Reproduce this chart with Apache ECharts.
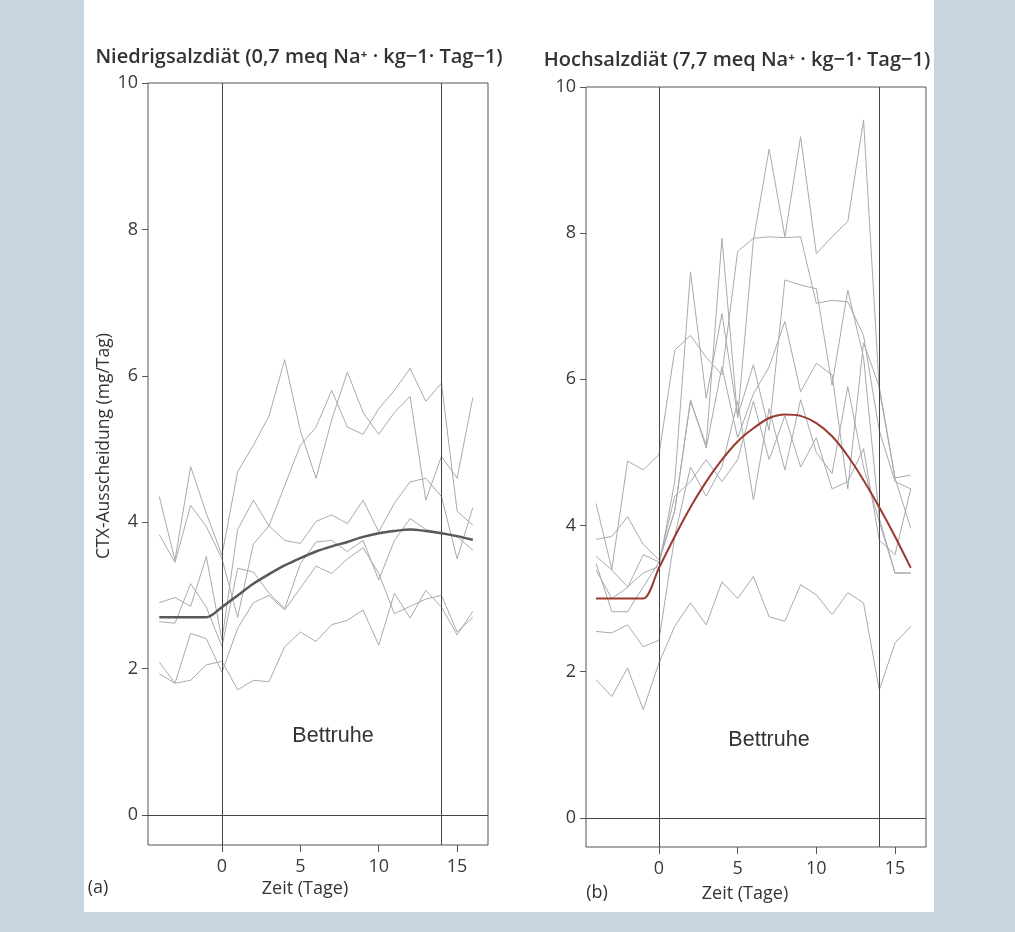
<!DOCTYPE html>
<html>
<head>
<meta charset="utf-8">
<script src="https://cdn.jsdelivr.net/npm/echarts@6/dist/echarts.min.js"></script>
<style>
  html, body { margin: 0; padding: 0; background: #c6d5df; }
  #chart { width: 1015px; height: 932px; }
</style>
</head>
<body>
<div id="chart"></div>
<script>
// days of the study, bed rest from day 0 to day 14
const days = [-4, -3, -2, -1, 0, 1, 2, 3, 4, 5, 6, 7, 8, 9, 10, 11, 12, 13, 14, 15, 16];
const yTicks = [0, 2, 4, 6, 8, 10];
const xTicks = [0, 5, 10, 15];

// (a) low-salt diet, single subjects
const lowSalt1 = [4.35, 3.48, 4.76, 4.12, 3.55, 4.69, 5.05, 5.45, 6.22, 5.25, 4.6, 5.4, 6.05, 5.5, 5.2, 5.5, 5.72, 4.3, 4.9, 4.6, 5.7];
const lowSalt2 = [3.83, 3.45, 4.23, 3.94, 3.5, 2.7, 3.7, 3.95, 4.5, 5.05, 5.3, 5.8, 5.3, 5.2, 5.55, 5.8, 6.1, 5.65, 5.9, 4.15, 3.96];
const lowSalt3 = [2.9, 2.97, 2.85, 3.53, 2.39, 3.9, 4.3, 3.95, 3.75, 3.71, 4.01, 4.1, 3.98, 4.3, 3.87, 4.26, 4.55, 4.6, 4.35, 3.5, 4.2];
const lowSalt4 = [2.64, 2.62, 3.16, 2.84, 2.3, 3.37, 3.32, 3.03, 2.82, 3.43, 3.73, 3.75, 3.6, 3.75, 3.21, 3.75, 4.05, 3.9, 3.85, 3.8, 3.62];
const lowSalt5 = [2.09, 1.8, 2.48, 2.41, 1.95, 2.55, 2.9, 3.0, 2.8, 3.1, 3.4, 3.3, 3.5, 3.65, 3.3, 2.75, 2.85, 2.95, 3.0, 2.5, 2.7];
const lowSalt6 = [1.93, 1.8, 1.84, 2.05, 2.1, 1.71, 1.84, 1.82, 2.3, 2.5, 2.37, 2.6, 2.66, 2.8, 2.32, 3.03, 2.69, 3.07, 2.84, 2.46, 2.78];
const lowSaltMean = [2.7, 2.7, 2.7, 2.7, 2.84, 3.0, 3.16, 3.29, 3.41, 3.51, 3.6, 3.67, 3.73, 3.8, 3.85, 3.88, 3.9, 3.88, 3.85, 3.81, 3.76];

// (b) high-salt diet, single subjects
const highSalt1 = [3.81, 3.85, 4.12, 3.74, 3.53, 4.2, 5.7, 5.1, 7.93, 5.47, 7.9, 9.15, 7.95, 9.32, 7.72, 7.95, 8.16, 9.55, 5.86, 4.65, 4.69];
const highSalt2 = [4.3, 3.4, 4.88, 4.76, 4.97, 6.4, 6.6, 6.3, 6.06, 7.75, 7.93, 7.95, 7.94, 7.95, 7.04, 7.08, 7.06, 6.6, 5.3, 4.6, 4.5];
const highSalt3 = [3.58, 3.39, 3.16, 3.35, 3.44, 4.6, 7.47, 5.74, 6.9, 5.5, 6.2, 5.3, 7.36, 7.29, 7.24, 5.92, 7.22, 6.3, 4.1, 3.35, 3.35];
const highSalt4 = [3.48, 2.82, 2.82, 3.16, 3.5, 4.2, 5.72, 5.06, 6.17, 5.2, 5.8, 6.17, 6.79, 5.83, 6.22, 6.06, 4.5, 6.5, 5.9, 4.65, 3.96];
const highSalt5 = [2.55, 2.53, 2.64, 2.34, 2.43, 3.85, 4.8, 4.4, 4.8, 5.7, 4.35, 5.6, 4.76, 5.72, 5.0, 4.71, 5.9, 4.8, 4.05, 3.35, 3.35];
const highSalt6 = [3.39, 3.0, 3.15, 3.6, 3.5, 4.4, 4.6, 4.9, 4.6, 4.9, 5.7, 4.9, 5.5, 4.8, 5.2, 4.5, 4.6, 5.05, 3.8, 3.6, 4.5];
const highSalt7 = [1.89, 1.66, 2.05, 1.48, 2.12, 2.62, 2.94, 2.64, 3.23, 3.0, 3.3, 2.75, 2.69, 3.19, 3.05, 2.78, 3.08, 2.94, 1.75, 2.39, 2.62];
const highSaltMean = [3.0, 3.0, 3.0, 3.0, 3.42, 3.85, 4.25, 4.6, 4.9, 5.15, 5.33, 5.47, 5.52, 5.5, 5.4, 5.22, 4.95, 4.62, 4.25, 3.85, 3.42];

const lowSalt = [lowSalt1, lowSalt2, lowSalt3, lowSalt4, lowSalt5, lowSalt6];
const highSalt = [highSalt1, highSalt2, highSalt3, highSalt4, highSalt5, highSalt6, highSalt7];

const pairs = vals => days.map((d, i) => [d, vals[i]]);
const font = "'Open Sans', 'Noto Sans', sans-serif";

function grayLine(vals, idx) {
  return {
    type: 'line', xAxisIndex: idx, yAxisIndex: idx, data: pairs(vals),
    showSymbol: false, silent: true,
    lineStyle: { color: '#a6abaf', width: 1 }
  };
}

function frameLines(idx) {
  // bed rest borders and zero line
  return {
    type: 'line', xAxisIndex: idx, yAxisIndex: idx, data: [], silent: true,
    markLine: {
      symbol: ['none', 'none'], silent: true, label: { show: false },
      lineStyle: { color: '#444', type: 'solid', width: 1 },
      data: [{ xAxis: 0 }, { xAxis: 14 }, { yAxis: 0 }]
    }
  };
}

function xAxisCfg(idx, min) {
  return {
    type: 'value', gridIndex: idx, min: min, max: 16.97,
    splitLine: { show: false }, axisLine: { show: false, onZero: false },
    axisTick: { show: true, length: 7, customValues: xTicks, lineStyle: { color: '#555' } },
    axisLabel: { customValues: xTicks, color: '#3a3a3a', fontSize: 18, fontFamily: font, margin: 13 }
  };
}

function yAxisCfg(idx, min) {
  return {
    type: 'value', gridIndex: idx, min: min, max: 10,
    splitLine: { show: false }, axisLine: { show: false, onZero: false },
    axisTick: { show: true, length: 6, customValues: yTicks, lineStyle: { color: '#555' } },
    axisLabel: { customValues: yTicks, color: '#3a3a3a', fontSize: 18, fontFamily: font, margin: 10 }
  };
}

const chart = echarts.init(document.getElementById('chart'));

const series = [frameLines(0), frameLines(1)];
lowSalt.forEach(v => series.push(grayLine(v, 0)));
highSalt.forEach(v => series.push(grayLine(v, 1)));
series.push({
  type: 'line', xAxisIndex: 0, yAxisIndex: 0, data: pairs(lowSaltMean),
  showSymbol: false, smooth: 0.3, silent: true, z: 5,
  lineStyle: { color: '#585858', width: 2.5 }
});
series.push({
  type: 'line', xAxisIndex: 1, yAxisIndex: 1, data: pairs(highSaltMean),
  showSymbol: false, smooth: 0.3, silent: true, z: 5,
  lineStyle: { color: '#9a3a2e', width: 2 }
});

const txt = (x, y, text, css, opts) => Object.assign({
  type: 'text', x: x, y: y,
  style: { text: text, fill: '#333', font: css, textAlign: 'center', textVerticalAlign: 'middle' }
}, opts || {});

chart.setOption({
  backgroundColor: 'transparent',
  animation: false,
  grid: [
    { left: 148, top: 83, width: 340, height: 762, show: true, borderColor: '#555', borderWidth: 1, backgroundColor: 'transparent' },
    { left: 586, top: 87, width: 340, height: 760, show: true, borderColor: '#555', borderWidth: 1, backgroundColor: 'transparent' }
  ],
  xAxis: [xAxisCfg(0, -4.72), xAxisCfg(1, -4.64)],
  yAxis: [yAxisCfg(0, -0.41), yAxisCfg(1, -0.4)],
  graphic: [
    { type: 'rect', z: -10, shape: { x: 84, y: 0, width: 850, height: 912 }, style: { fill: '#fff' } },
    txt(299, 57, 'Niedrigsalzdiät (0,7 meq Na⁺ · kg−1· Tag−1)', '600 20px ' + font),
    txt(737, 60, 'Hochsalzdiät (7,7 meq Na⁺ · kg−1· Tag−1)', '600 20px ' + font),
    txt(104, 446, 'CTX-Ausscheidung (mg/Tag)', '17.5px ' + font, { rotation: Math.PI / 2 }),
    txt(305, 889, 'Zeit (Tage)', '18px ' + font),
    txt(745, 894, 'Zeit (Tage)', '18px ' + font),
    txt(98, 888, '(a)', '18px ' + font),
    txt(597, 893, '(b)', '18px ' + font),
    txt(333, 736, 'Bettruhe', '21.5px "Liberation Sans", Arial, sans-serif'),
    txt(769, 740, 'Bettruhe', '21.5px "Liberation Sans", Arial, sans-serif')
  ],
  series: series
});
</script>
</body>
</html>
